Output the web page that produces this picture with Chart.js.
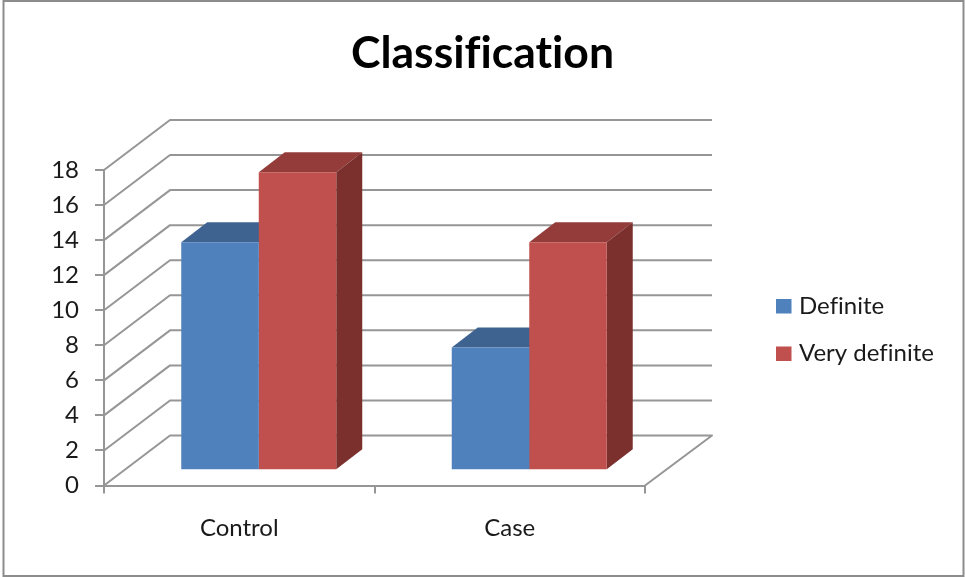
<!DOCTYPE html>
<html>
<head>
<meta charset="utf-8">
<title>Classification</title>
<script src="https://cdn.jsdelivr.net/npm/chart.js@4"></script>
<style>
    html, body { margin: 0; padding: 0; background: #fff; }
    canvas { display: block; }
</style>
</head>
<body>
<canvas id="classification" width="965" height="577"></canvas>
<script>
var categories = ['Control', 'Case'];
var definiteValues = [13, 7];
var veryDefiniteValues = [17, 13];
var seriesNames = ['Definite', 'Very definite'];

var FONT = 'Lato, Carlito, "Open Sans", sans-serif';
var GRID = '#969696';
var TEXT = '#1a1a1a';

// depth of the walls, and where the bars stand on the floor
var WALL_DX = 66, WALL_DY = -50;
var BAR_DX = 19.5, BAR_DY = -15.3;
var DEPTH_DX = 26, DEPTH_DY = -20;

function poly(ctx, color, pts) {
    ctx.fillStyle = color;
    ctx.beginPath();
    pts.forEach(function(p, i) {
        if (i === 0) ctx.moveTo(p[0], p[1]);
        else ctx.lineTo(p[0], p[1]);
    });
    ctx.closePath();
    ctx.fill();
}

var frame3d = {
    id: 'frame3d',
    // the right padding keeps room for the legend, the title still centres on the whole canvas
    afterLayout: function(chart) {
        chart.titleBlock.left = 0;
        chart.titleBlock.right = chart.width;
    },
    beforeDraw: function(chart) {
        var ctx = chart.ctx;
        ctx.textRendering = 'optimizeSpeed'; // no "ti" / "fi" ligatures in Lato
        ctx.save();
        ctx.fillStyle = '#fff';
        ctx.fillRect(0, 0, chart.width, chart.height);
        ctx.strokeStyle = '#8c8c8c';
        ctx.lineWidth = 2;
        ctx.strokeRect(3.5, 1, 960, 575);
        ctx.restore();
    },
    // side wall and back wall gridlines, then the hidden faces of the bars
    beforeDatasetsDraw: function(chart) {
        var ctx = chart.ctx, area = chart.chartArea, y = chart.scales.y;
        ctx.save();
        ctx.strokeStyle = GRID;
        ctx.lineWidth = 2;
        ctx.lineJoin = 'round';
        y.ticks.forEach(function(t) {
            var py = y.getPixelForValue(t.value);
            ctx.beginPath();
            ctx.moveTo(area.left, py);
            ctx.lineTo(area.left + WALL_DX, py + WALL_DY);
            ctx.lineTo(area.right + WALL_DX + 1, py + WALL_DY);
            if (t.value === 0) ctx.lineTo(area.right, py);
            ctx.stroke();
        });

        chart.data.datasets.forEach(function(ds, di) {
            chart.getDatasetMeta(di).data.forEach(function(bar) {
                var l = bar.x - bar.width / 2 + BAR_DX;
                var r = bar.x + bar.width / 2 + BAR_DX;
                var top = bar.y + BAR_DY;
                var bottom = bar.base + BAR_DY;
                poly(ctx, ds.topColor, [[l, top], [r, top], [r + DEPTH_DX, top + DEPTH_DY], [l + DEPTH_DX, top + DEPTH_DY]]);
                poly(ctx, ds.sideColor, [[r, top], [r + DEPTH_DX, top + DEPTH_DY], [r + DEPTH_DX, bottom + DEPTH_DY], [r, bottom]]);
            });
        });
        ctx.restore();

        // front faces are the library's own bars, shifted back onto the floor
        ctx.save();
        ctx.translate(BAR_DX, BAR_DY);
    },
    afterDatasetsDraw: function(chart) {
        chart.ctx.restore();
    },
    afterDraw: function(chart) {
        var ctx = chart.ctx;
        var rows = [299, 346.5];
        ctx.save();
        ctx.font = '24px ' + FONT;
        ctx.textBaseline = 'middle';
        chart.data.datasets.forEach(function(ds, i) {
            ctx.fillStyle = ds.backgroundColor;
            ctx.fillRect(776, rows[i], 15.5, 14.5);
            ctx.fillStyle = TEXT;
            ctx.fillText(ds.label, 799, rows[i] + 7);
        });
        ctx.restore();
    }
};

new Chart(document.getElementById('classification'), {
    type: 'bar',
    data: {
        labels: categories,
        datasets: [
            { label: seriesNames[0], data: definiteValues, backgroundColor: '#4F81BD', topColor: '#3E6390', sideColor: '#345378', clip: false },
            { label: seriesNames[1], data: veryDefiniteValues, backgroundColor: '#C0504D', topColor: '#943C3A', sideColor: '#7B302E', clip: false }
        ]
    },
    options: {
        responsive: false,
        animation: false,
        layout: { padding: { left: 0, right: 320, top: 0, bottom: 0 } },
        datasets: { bar: { categoryPercentage: 0.573, barPercentage: 1 } },
        plugins: {
            legend: { display: false },
            tooltip: { enabled: false },
            title: {
                display: true,
                text: 'Classification',
                color: '#000',
                font: { family: FONT, size: 44.5, weight: 'bold' },
                padding: { top: 27, bottom: 89.6 }
            }
        },
        scales: {
            x: {
                afterFit: function(scale) { scale.height = 91.5; },
                border: { color: GRID, width: 2 },
                grid: { color: GRID, lineWidth: 2, drawOnChartArea: false, tickLength: 8 },
                ticks: { color: TEXT, font: { family: FONT, size: 24 }, padding: 20, maxRotation: 0 }
            },
            y: {
                min: 0,
                max: 18,
                afterFit: function(scale) { scale.width = 104; },
                border: { color: GRID, width: 2 },
                grid: { color: GRID, lineWidth: 2, drawOnChartArea: false, tickLength: 9 },
                ticks: { stepSize: 2, color: TEXT, font: { family: FONT, size: 24 }, padding: 16 }
            }
        }
    },
    plugins: [frame3d]
});
</script>
</body>
</html>
